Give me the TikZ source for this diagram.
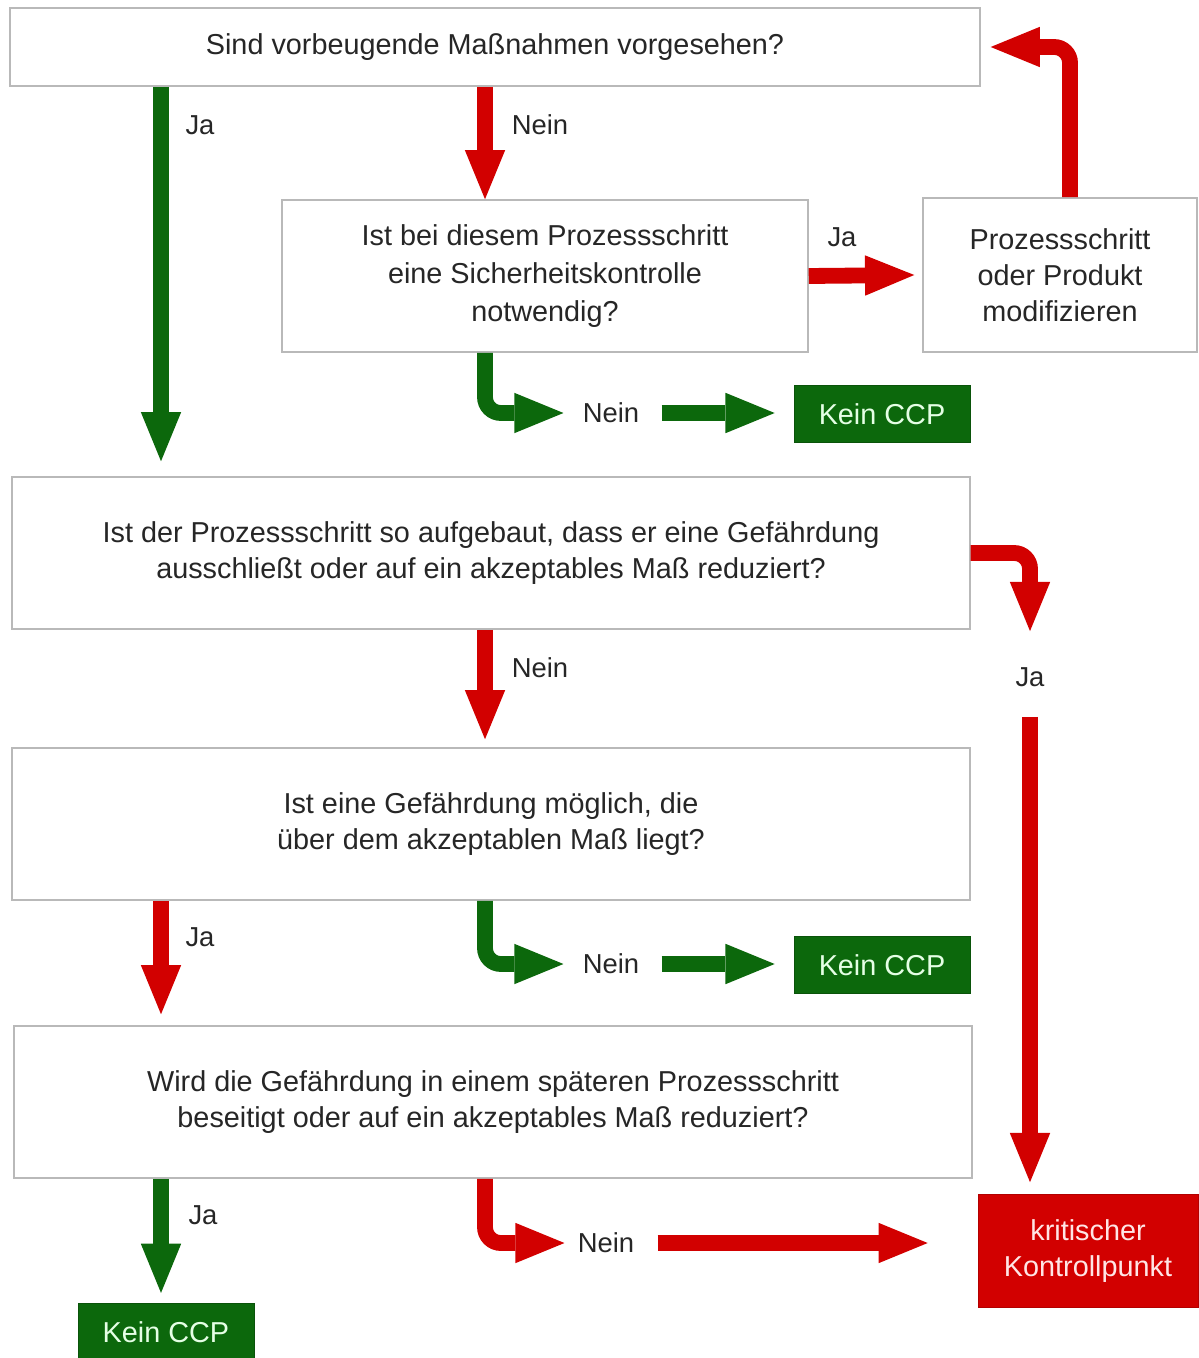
\documentclass[tikz,border=0pt]{standalone}
\usepackage{fontspec}
\setmainfont{Liberation Sans}
\usetikzlibrary{arrows.meta,positioning}

\definecolor{ccpgruen}{RGB}{12,104,12}
\definecolor{ccprot}{RGB}{210,0,0}
\definecolor{rahmen}{RGB}{185,185,185}

\begin{document}
\begin{tikzpicture}[x=0.02cm,y=-0.02cm,
    font=\fontsize{16.4}{20.4}\selectfont,
    frage/.style={draw=rahmen,line width=0.9pt,fill=white,align=center,text=black!85,inner sep=0pt},
    kein/.style={fill=ccpgruen,draw=ccpgruen!80!black,text=white!90!green,minimum width=3.52cm,minimum height=1.15cm},
    kritisch/.style={fill=ccprot,draw=ccprot!85!black,text=white!90!red,align=center,minimum width=4.4cm,minimum height=2.26cm},
    lbl/.style={inner sep=0pt,text=black!85,font=\fontsize{15.6}{18}\selectfont},
    dick/.style={line width=9pt,-{Triangle[length=28pt,width=23pt,line width=0pt]},rounded corners=9pt},
    gruen/.style={dick,draw=ccpgruen},
    rot/.style={dick,draw=ccprot}]

    \useasboundingbox (0,0) rectangle (1198,1358);
    % \draw[help lines,step=100] (0,0) grid (1198,1358);

    % Spalten fuer die senkrechten Pfeile
    \coordinate (sp_l) at (161,0);
    \coordinate (sp_m) at (485,0);
    \coordinate (sp_r) at (1070,0);

    \node[frage,minimum width=19.4cm,minimum height=1.56cm]  (f_1) at (495,47)   {Sind vorbeugende Maßnahmen vorgesehen?};
    \node[frage,minimum width=10.52cm,minimum height=3.04cm,font=\fontsize{16.4}{21.5}\selectfont]
                                                             (f_2) at (545,276)  {Ist bei diesem Prozessschritt\\eine Sicherheitskontrolle\\notwendig?};
    \node[frage,minimum width=5.48cm,minimum height=3.08cm]  (mod) at (1060,275) {Prozessschritt\\oder Produkt\\modifizieren};
    \node[kein]                                              (kein_1) at (882,414) {Kein CCP};
    \node[frage,minimum width=19.16cm,minimum height=3.04cm] (f_3) at (491,553)  {Ist der Prozessschritt so aufgebaut, dass er eine Gefährdung\\ausschließt oder auf ein akzeptables Maß reduziert?};
    \node[frage,minimum width=19.16cm,minimum height=3.04cm] (f_4) at (491,824)  {Ist eine Gefährdung möglich, die\\über dem akzeptablen Maß liegt?};
    \node[kein]                                              (kein_2) at (882,965) {Kein CCP};
    \node[frage,minimum width=19.16cm,minimum height=3.04cm] (f_5) at (493,1102) {Wird die Gefährdung in einem späteren Prozessschritt\\beseitigt oder auf ein akzeptables Maß reduziert?};
    \node[kritisch]                                          (kkp) at (1088,1251) {kritischer\\Kontrollpunkt};
    \node[kein]                                              (kein_3) at (166,1332) {Kein CCP};

    \node[lbl] (ja_1)   at (200,125)  {Ja};
    \node[lbl] (nein_1) at (540,125)  {Nein};
    \node[lbl] (ja_2)   at (842,237)  {Ja};
    \node[lbl] (nein_2) at (611,413)  {Nein};
    \node[lbl] (nein_3) at (540,668)  {Nein};
    \node[lbl] (ja_3)   at (1030,677) {Ja};
    \node[lbl] (ja_4)   at (200,937)  {Ja};
    \node[lbl] (nein_4) at (611,964)  {Nein};
    \node[lbl] (ja_5)   at (203,1215) {Ja};
    \node[lbl] (nein_5) at (606,1243) {Nein};

    % Frage 1
    \draw[gruen] (f_1.south -| sp_l) -- ([yshift=0.3cm]f_3.north -| sp_l);
    \draw[rot]   (f_1.south -| sp_m) -- (f_2.north -| sp_m);
    % Frage 2
    \draw[rot]   (f_2.east) -- ([xshift=-0.16cm]mod.west);
    \draw[rot]   (mod.north -| sp_r) |- ([xshift=0.2cm]f_1.east);
    \draw[gruen] (f_2.south -| sp_m) |- ([xshift=-0.38cm]nein_2.west);
    \draw[gruen] ([xshift=0.44cm]nein_2.east) -- ([xshift=-0.38cm]kein_1.west |- nein_2);
    % Frage 3
    \draw[rot]   (f_3.east) -| ([yshift=0.72cm]ja_3.north);
    \draw[rot]   ([yshift=-0.6cm]ja_3.south) -- ([yshift=0.24cm]kkp.north -| ja_3);
    \draw[rot]   (f_3.south -| sp_m) -- ([yshift=0.16cm]f_4.north -| sp_m);
    % Frage 4
    \draw[rot]   (f_4.south -| sp_l) -- ([yshift=0.22cm]f_5.north -| sp_l);
    \draw[gruen] (f_4.south -| sp_m) |- ([xshift=-0.38cm]nein_4.west);
    \draw[gruen] ([xshift=0.44cm]nein_4.east) -- ([xshift=-0.38cm]kein_2.west |- nein_4);
    % Frage 5
    \draw[gruen] (f_5.south -| sp_l) -- ([yshift=0.2cm]kein_3.north -| sp_l);
    \draw[rot]   (f_5.south -| sp_m) |- ([xshift=-0.26cm]nein_5.west);
    \draw[rot]   ([xshift=0.46cm]nein_5.east) -- ([xshift=-1cm]kkp.west |- nein_5);
\end{tikzpicture}
\end{document}
